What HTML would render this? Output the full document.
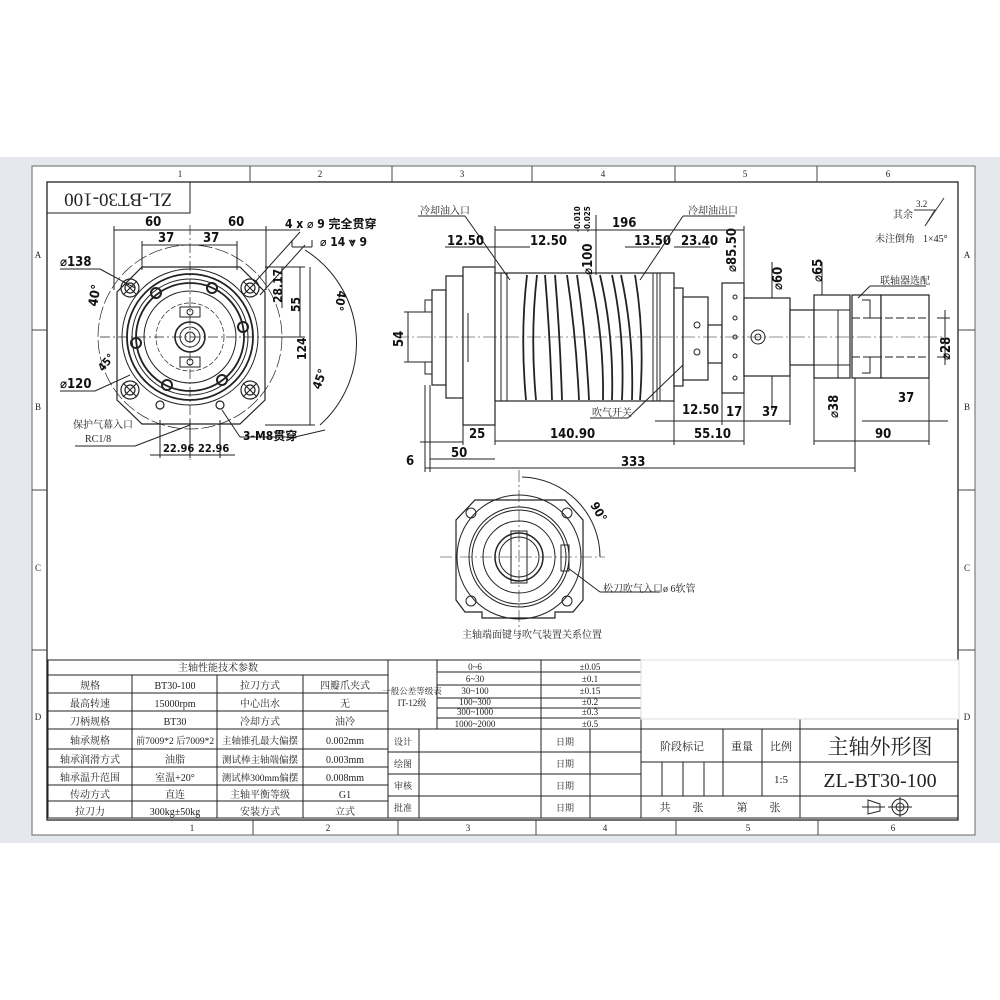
<!DOCTYPE html>
<html><head><meta charset="utf-8"><style>
html,body{margin:0;padding:0;background:#fff;}
svg{display:block}
text{font-family:"Liberation Serif","Noto Serif CJK SC","Noto Sans CJK SC",serif;fill:#222}
text.d, .d text{font-family:"DejaVu Sans Condensed","Liberation Sans Narrow","Liberation Sans","Noto Sans CJK SC",sans-serif;font-weight:bold;fill:#111}
.t{font-size:9px}
</style></head><body>
<svg width="1000" height="1000" viewBox="0 0 1000 1000" xmlns="http://www.w3.org/2000/svg">
<rect x="0" y="157" width="1000" height="686" fill="#e5e9ed"/>
<rect x="32" y="166" width="943" height="669" fill="#fff" stroke="#666" stroke-width="1"/>
<rect x="47" y="182" width="911" height="638" fill="none" stroke="#222" stroke-width="1.3"/>
<g stroke="#444" stroke-width="1">
<line x1="250" y1="166" x2="250" y2="182"/><line x1="392" y1="166" x2="392" y2="182"/><line x1="532" y1="166" x2="532" y2="182"/><line x1="675" y1="166" x2="675" y2="182"/><line x1="817" y1="166" x2="817" y2="182"/>
<line x1="253" y1="820" x2="253" y2="835"/><line x1="398" y1="820" x2="398" y2="835"/><line x1="536" y1="820" x2="536" y2="835"/><line x1="676" y1="820" x2="676" y2="835"/><line x1="818" y1="820" x2="818" y2="835"/>
<line x1="32" y1="330" x2="47" y2="330"/><line x1="32" y1="490" x2="47" y2="490"/><line x1="32" y1="650" x2="47" y2="650"/>
<line x1="958" y1="330" x2="975" y2="330"/><line x1="958" y1="490" x2="975" y2="490"/><line x1="958" y1="650" x2="975" y2="650"/>
</g>
<g class="t" text-anchor="middle">
<text x="180" y="177">1</text><text x="320" y="177">2</text><text x="462" y="177">3</text><text x="603" y="177">4</text><text x="745" y="177">5</text><text x="888" y="177">6</text>
<text x="192" y="831">1</text><text x="328" y="831">2</text><text x="468" y="831">3</text><text x="605" y="831">4</text><text x="748" y="831">5</text><text x="893" y="831">6</text>
<text x="38" y="258">A</text><text x="38" y="410">B</text><text x="38" y="571">C</text><text x="38" y="720">D</text>
<text x="967" y="258">A</text><text x="967" y="410">B</text><text x="967" y="571">C</text><text x="967" y="720">D</text>
</g>
<rect x="47" y="182" width="143" height="31" fill="none" stroke="#222"/>
<text transform="translate(118,198) rotate(180)" text-anchor="middle" dominant-baseline="middle" font-size="19">ZL-BT30-100</text>

<!-- FRONT VIEW -->
<g fill="none" stroke="#222" stroke-width="1">
<line x1="100" y1="337" x2="285" y2="337" stroke-dasharray="10,3,2,3" stroke-width=".7"/>
<line x1="190" y1="225" x2="190" y2="460" stroke-dasharray="10,3,2,3" stroke-width=".7"/>
<circle cx="190" cy="337" r="92" stroke-dasharray="14,3" stroke-width=".7"/>
<path d="M142,267 L240,267 L265,292 L265,400 L240,424 L142,424 L117,400 L117,292 Z" stroke-width="1.2"/>
<circle cx="190" cy="337" r="68"/>
<circle cx="190" cy="337" r="63" stroke-width="1.8"/>
<circle cx="190" cy="337" r="58"/>
<circle cx="190" cy="337" r="54" stroke-width="1.8"/>
<circle cx="190" cy="337" r="46"/>
<circle cx="190" cy="337" r="34" stroke-dasharray="5,2" stroke-width=".7"/>
<circle cx="190" cy="337" r="15" stroke-width="1.6"/>
<circle cx="190" cy="337" r="10"/>
<circle cx="190" cy="337" r="5"/>
<g stroke-width="1.2">
<circle cx="130" cy="288" r="9"/><circle cx="130" cy="288" r="5"/>
<circle cx="250" cy="288" r="9"/><circle cx="250" cy="288" r="5"/>
<circle cx="130" cy="390" r="9"/><circle cx="130" cy="390" r="5"/>
<circle cx="250" cy="390" r="9"/><circle cx="250" cy="390" r="5"/>
<circle cx="156" cy="293" r="5" stroke-width="2"/><circle cx="212" cy="288" r="5" stroke-width="2"/>
<circle cx="243" cy="327" r="5" stroke-width="2"/><circle cx="136" cy="343" r="5" stroke-width="2"/>
<circle cx="167" cy="385" r="5" stroke-width="2"/><circle cx="222" cy="380" r="5" stroke-width="2"/>
<circle cx="160" cy="405" r="4"/><circle cx="220" cy="405" r="4"/>
</g>
<rect x="180" y="307" width="20" height="10"/><rect x="180" y="357" width="20" height="10"/>
<circle cx="190" cy="312" r="3"/><circle cx="190" cy="362" r="3"/>
<line x1="123" y1="281" x2="137" y2="295"/><line x1="137" y1="281" x2="123" y2="295"/>
<line x1="243" y1="281" x2="257" y2="295"/><line x1="257" y1="281" x2="243" y2="295"/>
<line x1="123" y1="383" x2="137" y2="397"/><line x1="137" y1="383" x2="123" y2="397"/>
<line x1="243" y1="383" x2="257" y2="397"/><line x1="257" y1="383" x2="243" y2="397"/>
<line x1="114" y1="230" x2="266" y2="230"/><line x1="114" y1="226" x2="114" y2="290"/><line x1="266" y1="226" x2="266" y2="290"/>
<line x1="142" y1="245" x2="237" y2="245"/><line x1="142" y1="241" x2="142" y2="270"/><line x1="237" y1="241" x2="237" y2="270"/>
<line x1="60" y1="269" x2="100" y2="269"/><line x1="100" y1="269" x2="135" y2="288"/>
<line x1="60" y1="391" x2="95" y2="391"/><line x1="95" y1="391" x2="130" y2="375"/>
<line x1="75" y1="446" x2="135" y2="446"/><line x1="135" y1="446" x2="190" y2="425"/>
<line x1="265" y1="267" x2="305" y2="267"/><line x1="265" y1="337" x2="305" y2="337"/>
<line x1="282" y1="267" x2="282" y2="308"/><line x1="300" y1="267" x2="300" y2="337"/>
<line x1="310" y1="267" x2="310" y2="425"/><line x1="265" y1="425" x2="315" y2="425"/>
<line x1="150" y1="455" x2="235" y2="455"/><line x1="160" y1="420" x2="160" y2="458"/><line x1="190" y1="420" x2="190" y2="458"/><line x1="220" y1="420" x2="220" y2="458"/>
<line x1="240" y1="437" x2="295" y2="437"/><line x1="240" y1="437" x2="222" y2="410"/><line x1="295" y1="437" x2="325" y2="430"/>
<line x1="230" y1="230" x2="300" y2="230"/><line x1="255" y1="282" x2="300" y2="232"/>
<line x1="292" y1="240" x2="292" y2="247"/><line x1="292" y1="247" x2="312" y2="247"/><line x1="312" y1="240" x2="312" y2="247"/>
<line x1="260" y1="295" x2="305" y2="245"/>
<path d="M305,250 A110,110 0 0 1 320,425" />
</g>
<g class="d" font-size="13">
<text x="145" y="226">60</text><text x="228" y="226">60</text>
<text x="158" y="242">37</text><text x="203" y="242">37</text>
<text x="60" y="266">⌀138</text><text x="60" y="388">⌀120</text>
<text transform="translate(97,307) rotate(-80)">40°</text>
<text transform="translate(103,372) rotate(-50)" font-size="11">45°</text>
<text x="163" y="452" font-size="11">22.96</text><text x="198" y="452" font-size="11">22.96</text>
<text x="243" y="440" font-size="12">3-M8贯穿</text>
<text x="285" y="228" font-size="12">4 x ⌀ 9 完全贯穿</text>
<text x="320" y="246" font-size="12">⌀ 14 ⩔ 9</text>
<text transform="translate(282,303) rotate(-90)" font-size="12">28.17</text>
<text transform="translate(300,312) rotate(-90)" font-size="12">55</text>
<text transform="translate(306,360) rotate(-90)" font-size="12">124</text>
<text transform="translate(338,290) rotate(100)" font-size="12">40°</text>
<text transform="translate(320,390) rotate(-70)" font-size="12">45°</text>
</g>
<text x="73" y="428" font-size="10" fill="#555">保护气幕入口</text>
<text x="85" y="442" font-size="10" fill="#555">RC1/8</text>

<!-- SIDE VIEW -->
<g fill="#fff" stroke="#222" stroke-width="1.2">
<rect x="432" y="290" width="14" height="95"/>
<rect x="446" y="276" width="17" height="122"/>
<rect x="463" y="267" width="32" height="158"/>
<rect x="495" y="273" width="179" height="128"/>
<rect x="674" y="288" width="9" height="98"/>
<rect x="683" y="297" width="25" height="83"/>
<rect x="708" y="325" width="14" height="38"/>
<rect x="722" y="283" width="22" height="110"/>
<rect x="744" y="298" width="46" height="78"/>
<rect x="790" y="310" width="24" height="55"/>
<rect x="814" y="295" width="36" height="83"/>
<rect x="852" y="295" width="29" height="83"/>
<rect x="881" y="295" width="48" height="83"/>
</g>
<g fill="none" stroke="#222" stroke-width="1">
<rect x="425" y="300" width="7" height="12"/><rect x="425" y="362" width="7" height="12"/>
<line x1="501" y1="273" x2="501" y2="401"/><line x1="507" y1="273" x2="507" y2="401"/>
<line x1="660" y1="273" x2="660" y2="401"/><line x1="653" y1="273" x2="653" y2="401"/><line x1="657" y1="273" x2="657" y2="401"/>
<path stroke-width="1.8" d="M527,275 Q520,335 526,400 M537,275 Q530,335 536,400 M545,275 Q550,335 552,400 M555,275 Q560,335 562,400 M567,275 Q576,335 579,400 M577,275 Q586,335 589,400 M590,275 Q604,335 603,400 M600,275 Q614,335 612,400 M612,275 Q625,335 622,400 M621,275 Q634,335 632,400 M635,275 Q645,335 640,400"/>
<line x1="468" y1="313" x2="468" y2="362"/>
<circle cx="758" cy="337" r="7"/><circle cx="758" cy="337" r="3"/>
<circle cx="735" cy="297" r="2"/><circle cx="735" cy="318" r="2"/><circle cx="735" cy="337" r="2"/><circle cx="735" cy="356" r="2"/><circle cx="735" cy="378" r="2"/>
<circle cx="697" cy="325" r="3"/><circle cx="697" cy="352" r="3"/>
<line x1="814" y1="310" x2="850" y2="310"/><line x1="814" y1="365" x2="850" y2="365"/>
<path d="M862,300 L870,300 L870,318 L881,318 M862,373 L870,373 L870,357 L881,357"/>
<line x1="852" y1="318" x2="929" y2="318" stroke-dasharray="8,3"/>
<line x1="852" y1="357" x2="929" y2="357" stroke-dasharray="8,3"/>
<line x1="395" y1="337" x2="945" y2="337" stroke-dasharray="14,3,2,3" stroke-width=".6"/>
<line x1="495" y1="230" x2="744" y2="230"/><line x1="495" y1="226" x2="495" y2="273"/><line x1="744" y1="226" x2="744" y2="283"/>
<line x1="445" y1="247" x2="495" y2="247"/><line x1="495" y1="247" x2="530" y2="247"/>
<line x1="625" y1="247" x2="660" y2="247"/><line x1="674" y1="247" x2="710" y2="247"/>
<line x1="596" y1="215" x2="596" y2="275"/>
<line x1="404" y1="312" x2="432" y2="312"/><line x1="404" y1="362" x2="432" y2="362"/><line x1="408" y1="312" x2="408" y2="362"/>
<line x1="420" y1="442" x2="463" y2="442"/><line x1="463" y1="425" x2="463" y2="445"/>
<line x1="495" y1="401" x2="495" y2="445"/><line x1="495" y1="441" x2="674" y2="441"/><line x1="674" y1="386" x2="674" y2="445"/>
<line x1="674" y1="441" x2="744" y2="441"/><line x1="744" y1="393" x2="744" y2="445"/>
<line x1="722" y1="393" x2="722" y2="425"/><line x1="722" y1="421" x2="790" y2="421"/><line x1="790" y1="376" x2="790" y2="425"/>
<line x1="655" y1="421" x2="722" y2="421"/>
<line x1="814" y1="378" x2="814" y2="445"/><line x1="814" y1="441" x2="929" y2="441"/><line x1="929" y1="378" x2="929" y2="445"/>
<line x1="862" y1="421" x2="948" y2="421"/>
<line x1="430" y1="459" x2="495" y2="459"/><line x1="430" y1="385" x2="430" y2="472"/>
<line x1="425" y1="468" x2="855" y2="468"/><line x1="425" y1="385" x2="425" y2="472"/><line x1="855" y1="378" x2="855" y2="472"/>
<line x1="772" y1="262" x2="772" y2="298"/><line x1="772" y1="376" x2="772" y2="410"/>
<line x1="822" y1="262" x2="822" y2="295"/><line x1="838" y1="310" x2="838" y2="378"/>
<line x1="937" y1="318" x2="950" y2="318"/><line x1="937" y1="357" x2="950" y2="357"/><line x1="945" y1="310" x2="945" y2="365"/>
<line x1="465" y1="216" x2="510" y2="280"/><line x1="418" y1="216" x2="465" y2="216"/>
<line x1="683" y1="216" x2="640" y2="280"/><line x1="683" y1="216" x2="735" y2="216"/>
<line x1="870" y1="286" x2="926" y2="286"/><line x1="870" y1="286" x2="858" y2="298"/>
<line x1="590" y1="418" x2="628" y2="418"/><line x1="628" y1="418" x2="683" y2="365"/>
</g>
<g class="d" font-size="13">
<text x="447" y="245">12.50</text><text x="530" y="245">12.50</text>
<text x="612" y="227">196</text>
<text x="634" y="245">13.50</text><text x="681" y="245">23.40</text>
<text transform="translate(580,232) rotate(-90)" font-size="8">-0.010</text>
<text transform="translate(590,232) rotate(-90)" font-size="8">-0.025</text>
<text transform="translate(592,275) rotate(-90)">⌀100</text>
<text transform="translate(736,272) rotate(-90)">⌀85.50</text>
<text transform="translate(782,290) rotate(-90)">⌀60</text>
<text transform="translate(822,282) rotate(-90)">⌀65</text>
<text transform="translate(950,360) rotate(-90)">⌀28</text>
<text transform="translate(838,418) rotate(-90)">⌀38</text>
<text transform="translate(403,347) rotate(-90)">54</text>
<text x="682" y="414">12.50</text><text x="726" y="416">17</text><text x="762" y="416">37</text>
<text x="898" y="402">37</text>
<text x="469" y="438">25</text><text x="550" y="438">140.90</text><text x="694" y="438">55.10</text><text x="875" y="438">90</text>
<text x="451" y="457">50</text><text x="406" y="465">6</text><text x="621" y="466">333</text>
</g>
<g font-size="10" fill="#444">
<text x="420" y="214">冷却油入口</text><text x="688" y="214">冷却油出口</text>
<text x="880" y="284">联轴器选配</text><text x="592" y="416">吹气开关</text>
<text x="893" y="218">其余</text><text x="875" y="242">未注倒角</text><text x="923" y="242">1×45°</text>
<text x="916" y="207" font-size="9">3.2</text>
</g>
<path d="M914,210 L935,210 L925,226 L944,198" fill="none" stroke="#333"/>

<!-- BOTTOM VIEW -->
<g fill="none" stroke="#222" stroke-width="1">
<line x1="440" y1="557" x2="605" y2="557" stroke-dasharray="12,3,2,3" stroke-width=".6"/>
<line x1="519" y1="470" x2="519" y2="635" stroke-dasharray="12,3,2,3" stroke-width=".6"/>
<path d="M475,500 L565,500 L583,520 L583,600 L573,612 L555,612 L555,618 L482,618 L482,612 L465,612 L456,600 L456,520 Z" stroke-width="1.2"/>
<circle cx="519" cy="557" r="62"/>
<circle cx="519" cy="557" r="50"/>
<circle cx="519" cy="557" r="47"/>
<circle cx="519" cy="557" r="36"/>
<circle cx="519" cy="557" r="24" stroke-width="1.5"/>
<circle cx="519" cy="557" r="20"/>
<rect x="511" y="531" width="16" height="52"/>
<circle cx="471" cy="513" r="5"/><circle cx="567" cy="513" r="5"/><circle cx="471" cy="601" r="5"/><circle cx="567" cy="601" r="5"/>
<rect x="561" y="545" width="8" height="26"/>
<path d="M522,477 A80,80 0 0 1 600,557"/>
<line x1="568" y1="568" x2="600" y2="592"/><line x1="600" y1="592" x2="660" y2="592"/>
</g>
<text class="d" transform="translate(590,505) rotate(60)" font-size="12">90°</text>
<text x="603" y="592" font-size="10" fill="#444">松刀吹气入口ø 6软管</text>
<text x="462" y="638" font-size="10" fill="#444">主轴端面键与吹气装置关系位置</text>

<!-- TABLES -->
<g fill="none" stroke="#222" stroke-width="1">
<rect x="48" y="660" width="340" height="158"/>
<line x1="48" y1="675" x2="388" y2="675"/>
<line x1="48" y1="693" x2="388" y2="693"/><line x1="48" y1="711" x2="388" y2="711"/><line x1="48" y1="729" x2="388" y2="729"/>
<line x1="48" y1="749" x2="388" y2="749"/><line x1="48" y1="767" x2="388" y2="767"/><line x1="48" y1="785" x2="388" y2="785"/><line x1="48" y1="801" x2="388" y2="801"/>
<line x1="132" y1="675" x2="132" y2="818"/><line x1="217" y1="675" x2="217" y2="818"/><line x1="303" y1="675" x2="303" y2="818"/>
<rect x="388" y="660" width="253" height="158"/>
<line x1="437" y1="660" x2="437" y2="729"/><line x1="541" y1="660" x2="541" y2="729"/>
<line x1="437" y1="672" x2="641" y2="672"/><line x1="437" y1="685" x2="641" y2="685"/><line x1="437" y1="698" x2="641" y2="698"/><line x1="437" y1="708" x2="641" y2="708"/><line x1="437" y1="718" x2="641" y2="718"/>
<line x1="388" y1="729" x2="641" y2="729"/><line x1="388" y1="752" x2="641" y2="752"/><line x1="388" y1="774" x2="641" y2="774"/><line x1="388" y1="796" x2="641" y2="796"/>
<line x1="419" y1="729" x2="419" y2="818"/><line x1="541" y1="729" x2="541" y2="818"/><line x1="590" y1="729" x2="590" y2="818"/>
<rect x="641" y="660" width="317" height="158"/>
<line x1="641" y1="729" x2="958" y2="729"/><line x1="641" y1="762" x2="800" y2="762"/><line x1="641" y1="796" x2="958" y2="796"/><line x1="800" y1="762" x2="958" y2="762"/>
<line x1="723" y1="729" x2="723" y2="796"/><line x1="762" y1="729" x2="762" y2="796"/><line x1="800" y1="715" x2="800" y2="818"/>
<line x1="662" y1="762" x2="662" y2="796"/><line x1="683" y1="762" x2="683" y2="796"/><line x1="704" y1="762" x2="704" y2="796"/>
</g>
<rect x="641" y="660" width="318" height="59" fill="#fff" stroke="#ddd"/>
<g font-size="10" text-anchor="middle">
<text x="218" y="671">主轴性能技术参数</text>
<text x="90" y="689">规格</text><text x="175" y="689">BT30-100</text><text x="260" y="689">拉刀方式</text><text x="345" y="689">四瓣爪夹式</text>
<text x="90" y="707">最高转速</text><text x="175" y="707">15000rpm</text><text x="260" y="707">中心出水</text><text x="345" y="707">无</text>
<text x="90" y="725">刀柄规格</text><text x="175" y="725">BT30</text><text x="260" y="725">冷却方式</text><text x="345" y="725">油冷</text>
<text x="90" y="744">轴承规格</text><text x="175" y="744" font-size="9.5">前7009*2 后7009*2</text><text x="260" y="744" font-size="9.5">主轴锥孔最大偏摆</text><text x="345" y="744">0.002mm</text>
<text x="90" y="763">轴承润滑方式</text><text x="175" y="763">油脂</text><text x="260" y="763" font-size="9.5">测试棒主轴端偏摆</text><text x="345" y="763">0.003mm</text>
<text x="90" y="781">轴承温升范围</text><text x="175" y="781">室温+20°</text><text x="260" y="781" font-size="9.5">测试棒300mm偏摆</text><text x="345" y="781">0.008mm</text>
<text x="90" y="798">传动方式</text><text x="175" y="798">直连</text><text x="260" y="798">主轴平衡等级</text><text x="345" y="798">G1</text>
<text x="90" y="815">拉刀力</text><text x="175" y="815">300kg±50kg</text><text x="260" y="815">安装方式</text><text x="345" y="815">立式</text>
</g>
<g font-size="9" text-anchor="middle">
<text x="412" y="694" font-size="8.5">一般公差等级表</text><text x="412" y="706">IT-12级</text>
<text x="475" y="670">0~6</text><text x="590" y="670">±0.05</text>
<text x="475" y="682">6~30</text><text x="590" y="682">±0.1</text>
<text x="475" y="694">30~100</text><text x="590" y="694">±0.15</text>
<text x="475" y="705">100~300</text><text x="590" y="705">±0.2</text>
<text x="475" y="715">300~1000</text><text x="590" y="715">±0.3</text>
<text x="475" y="727">1000~2000</text><text x="590" y="727">±0.5</text>
<text x="403" y="745">设计</text><text x="403" y="767">绘图</text><text x="403" y="789">审核</text><text x="403" y="811">批准</text>
<text x="565" y="745">日期</text><text x="565" y="767">日期</text><text x="565" y="789">日期</text><text x="565" y="811">日期</text>
</g>
<g font-size="11" text-anchor="middle">
<text x="682" y="750">阶段标记</text><text x="742" y="750">重量</text><text x="781" y="750">比例</text>
<text x="781" y="783">1:5</text>
<text x="720" y="811">共　　张　　　第　　张</text>
</g>
<text x="880" y="754" font-size="21" text-anchor="middle">主轴外形图</text>
<text x="880" y="787" font-size="20" text-anchor="middle">ZL-BT30-100</text>
<g fill="none" stroke="#222">
<path d="M862,807 L885,807 M868,800 L880,804 L880,811 L868,814 Z"/>
<circle cx="900" cy="807" r="8"/><circle cx="900" cy="807" r="4"/>
<line x1="888" y1="807" x2="912" y2="807"/><line x1="900" y1="797" x2="900" y2="817"/>
</g>
</svg>
</body></html>
